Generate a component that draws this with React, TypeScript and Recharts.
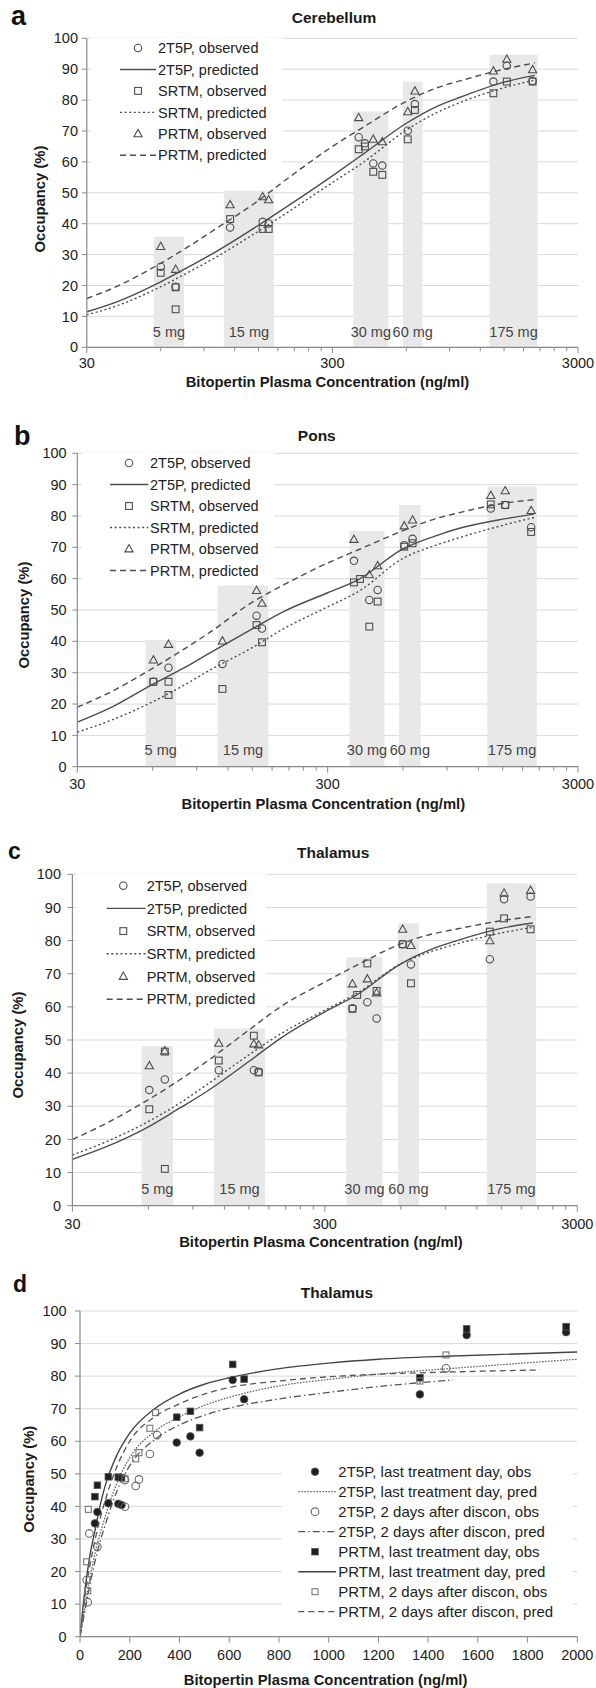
import React from "react";
import { ComposedChart, Line, Scatter, XAxis, YAxis, CartesianGrid, ReferenceArea, Legend } from "recharts";

const FONT = '"Liberation Sans", Arial, sans-serif';
const AXIS = "#8a8a8a";
const GRID = "#d9d9d9";
const BAND = "#e8e8e8";
const INK = "#222";
const MARK = "#4d4d4d";
const Y_W = 40;
const X_H = 30;

// shared axis values
const doseLabels = ["5 mg", "15 mg", "30 mg", "60 mg", "175 mg"];
const logTicks = [30, 60, 90, 120, 150, 180, 210, 240, 270, 300, 600, 900, 1200, 1500, 1800, 2100, 2400, 2700, 3000];
const logTickLabels = [30, 300, 3000];
const linTicks = [0, 200, 400, 600, 800, 1000, 1200, 1400, 1600, 1800, 2000];
const yTicks = [0, 10, 20, 30, 40, 50, 60, 70, 80, 90, 100];
const curveConc = [30, 40, 60, 80, 100, 150, 200, 300, 400, 600, 800, 1000, 1500, 2000];

// a: cerebellum
const cblBandLo = [56.3, 108.4, 365, 581, 1308];
const cblBandHi = [74.6, 173.4, 507, 699, 2054];
const cblBandTop = [35.8, 50.7, 76.3, 86, 94.7];
const cblTwoObs = [[60, 26.1], [69, 19.6], [115, 38.8], [156, 40.6], [165, 40.1], [384, 68.0], [407, 66.0], [440, 59.5], [479, 58.8], [608, 70.1], [650, 78.7], [1357, 86.0], [1539, 91.1], [1960, 86.2]];
const cblSrtmObs = [[60, 24.1], [69, 19.4], [69, 12.3], [115, 41.5], [156, 38.3], [165, 38.3], [384, 64.1], [407, 65.0], [440, 56.8], [479, 55.8], [608, 67.3], [650, 76.8], [1357, 82.2], [1539, 86.0], [1960, 86.0]];
const cblPrtmObs = [[60, 32.6], [69, 25.2], [115, 46.1], [156, 48.7], [165, 47.7], [384, 74.3], [440, 67.3], [479, 66.5], [608, 76.2], [650, 82.9], [1357, 89.4], [1539, 93.2], [1960, 89.8]];
const cblTwoPred = [11.5, 14.8, 21.2, 26.5, 30.8, 39.5, 46.0, 55.5, 62.5, 72.5, 78.0, 81.0, 85.8, 88.0];
const cblSrtmPred = [10.5, 13.5, 19.6, 24.8, 29.0, 37.6, 44.0, 53.3, 59.8, 70.3, 76.0, 79.3, 84.0, 86.5];
const cblPrtmPred = [15.8, 19.8, 27.2, 33.2, 38.2, 47.5, 55.0, 65.0, 71.2, 79.6, 84.0, 86.3, 90.0, 92.0];

// b: pons
const ponsBandLo = [56.2, 109, 367, 578, 1303];
const ponsBandHi = [74.3, 174, 506, 706, 2053];
const ponsBandTop = [40.4, 57.8, 75.2, 83.5, 89.5];
const ponsTwoObs = [[60.4, 27.1], [69.4, 31.6], [114, 32.8], [156, 48.2], [164, 44.1], [382, 65.7], [440, 53.2], [475, 56.4], [607, 70.7], [655, 72.7], [1345, 82.4], [1536, 83.5], [1950, 76.4]];
const ponsSrtmObs = [[60.4, 27.1], [69.4, 27.1], [69.4, 22.9], [114, 24.8], [156, 45.2], [164, 39.7], [382, 58.8], [404, 59.9], [440, 44.7], [475, 52.7], [607, 70.2], [655, 71.3], [1345, 83.7], [1536, 83.5], [1950, 74.9]];
const ponsPrtmObs = [[60.4, 34.0], [69.4, 39.0], [114, 40.1], [156, 56.2], [164, 52.1], [382, 72.5], [440, 61.2], [475, 64.1], [607, 76.8], [655, 78.7], [1345, 86.5], [1536, 88.0], [1950, 81.7]];
const ponsTwoPred = [14.2, 18.5, 26.3, 31.5, 36.0, 44.0, 49.5, 55.5, 59.8, 69.5, 73.5, 76.0, 79.0, 80.6];
const ponsSrtmPred = [11.0, 14.5, 20.7, 26.0, 30.5, 38.0, 44.0, 51.0, 56.0, 66.5, 70.5, 73.0, 77.0, 79.5];
const ponsPrtmPred = [19.0, 23.5, 31.4, 37.5, 42.5, 52.5, 58.0, 65.0, 69.3, 75.3, 79.0, 81.0, 84.0, 85.2];

// c: thalamus
const thalBandLo = [56.4, 109, 365, 585, 1313];
const thalBandHi = [75.1, 174, 508, 708, 2061];
const thalBandTop = [48.2, 53.5, 75, 85.2, 97.3];
const thalTwoObs = [[60.5, 34.9], [69.7, 38.1], [114, 40.9], [157, 40.9], [164, 40.4], [386, 59.6], [442, 61.4], [481, 56.5], [610, 78.9], [658, 72.8], [1351, 74.4], [1538, 92.5], [1959, 93.3]];
const thalSrtmObs = [[60.5, 29.1], [69.7, 46.5], [69.7, 11.1], [114, 43.8], [157, 51.3], [164, 40.2], [386, 59.4], [403, 63.6], [442, 73.1], [481, 64.8], [610, 78.9], [658, 67.1], [1351, 82.7], [1538, 86.7], [1959, 83.4]];
const thalPrtmObs = [[60.5, 42.2], [69.7, 46.7], [114, 49.0], [157, 48.8], [164, 48.5], [386, 66.9], [442, 68.4], [481, 64.2], [610, 83.4], [658, 78.5], [1351, 79.9], [1538, 94.3], [1959, 95.1]];
const thalTwoPred = [14.0, 17.5, 23.8, 29.5, 34.0, 43.5, 50.5, 58.5, 63.5, 73.0, 77.5, 80.0, 83.7, 85.3];
const thalSrtmPred = [15.3, 19.0, 25.4, 31.0, 36.0, 45.5, 51.8, 59.0, 64.0, 73.0, 76.8, 79.0, 82.3, 84.0];
const thalPrtmPred = [20.0, 24.5, 32.0, 38.0, 43.0, 53.0, 60.0, 67.5, 72.5, 79.0, 82.0, 83.5, 86.0, 87.3];

// d: thalamus, linear concentration
const dConc = [0, 20, 40, 60, 80, 100, 150, 200, 300, 400, 500, 600, 800, 1000, 1200, 1500, 2000];
const dConcDashed = [0, 20, 40, 60, 80, 100, 150, 200, 300, 400, 500, 600, 800, 1000, 1200, 1500, 1850];
const dConcShort = [0, 20, 40, 60, 80, 100, 150, 200, 300, 400, 500, 600, 800, 1000, 1200, 1500];
const dTwoLastObs = [[60, 34.8], [70, 38.3], [114, 41.0], [154, 40.8], [167, 40.4], [389, 59.6], [444, 61.5], [481, 56.5], [614, 78.8], [660, 72.9], [1367, 74.4], [1555, 92.6], [1955, 93.5]];
const dTwoDiscObs = [[27, 17.4], [31, 10.6], [37.5, 31.7], [70, 27.6], [181, 39.9], [181, 48.1], [224, 46.3], [237, 48.3], [281, 56.1], [310, 61.9], [1472, 82.4]];
const dPrtmLastObs = [[60, 43.0], [70, 46.5], [114, 49.1], [154, 49.0], [167, 48.8], [389, 67.4], [444, 69.2], [481, 64.2], [614, 83.6], [660, 79.1], [1367, 79.5], [1555, 94.5], [1955, 95.2]];
const dPrtmDiscObs = [[27, 23.0], [31, 14.1], [33.5, 39.1], [181, 48.5], [224, 54.6], [237, 56.5], [281, 64.0], [304, 68.8], [1367, 78.5], [1472, 86.5]];
const dTwoLastPred = [0, 9, 18, 25.5, 31.5, 36.5, 47.5, 55, 63, 67.5, 71, 73.5, 77, 79, 80.6, 82.4, 85.2];
const dTwoDiscPred = [0, 8, 16, 23, 29, 34, 45, 52.5, 60.5, 65, 68, 70.2, 73, 75, 76.8, 78.8];
const dPrtmLastPred = [0, 14.5, 25, 32.5, 40, 46, 56, 62.5, 70, 74.5, 77.5, 79.5, 82.3, 84, 85.2, 86.2, 87.4];
const dPrtmDiscPred = [0, 12.5, 22, 29.5, 36, 41.5, 52.5, 60, 67.5, 71.5, 74.5, 76.5, 78.5, 79.8, 80.6, 81.3, 81.9];

const pts = (pairs: number[][]) => pairs.map(([x, y]) => ({ x, y }));
const curve = (xs: number[], ys: number[]) => ys.map((y, i) => ({ x: xs[i], y }));

// marker shapes
const openCircle = (p: any) => <circle cx={p.cx} cy={p.cy} r={3.7} fill="none" stroke={MARK} strokeWidth={1.1} />;
const openSquare = (p: any) => <rect x={p.cx - 3.4} y={p.cy - 3.4} width={6.8} height={6.8} fill="none" stroke={MARK} strokeWidth={1.1} />;
const openTriangle = (p: any) => (
    <polygon points={`${p.cx},${p.cy - 4.4} ${p.cx - 4.1},${p.cy + 2.9} ${p.cx + 4.1},${p.cy + 2.9}`} fill="none" stroke={MARK} strokeWidth={1.1} />
);
const filledCircle = (p: any) => <circle cx={p.cx} cy={p.cy} r={3.8} fill="#1e1e1e" stroke="#555" strokeWidth={0.8} />;
const filledSquare = (p: any) => <rect x={p.cx - 3.3} y={p.cy - 3.3} width={6.6} height={6.6} fill="#1e1e1e" stroke="#555" strokeWidth={0.8} />;
const greyCircle = (p: any) => <circle cx={p.cx} cy={p.cy} r={3.8} fill="none" stroke="#666" strokeWidth={1.1} />;
const greySquare = (p: any) => <rect x={p.cx - 3} y={p.cy - 3} width={6} height={6} fill="none" stroke="#777" strokeWidth={1.1} />;

type Series = { name: string; data: any[]; line?: boolean; dash?: string; width?: number; color?: string; shape?: (p: any) => any };

const abcSeries = (twoObs, twoPred, srtmObs, srtmPred, prtmObs, prtmPred): Series[] => [
    { name: "2T5P, observed", data: pts(twoObs), shape: openCircle },
    { name: "2T5P, predicted", data: curve(curveConc, twoPred), line: true, color: "#4d4d4d", width: 1.4 },
    { name: "SRTM, observed", data: pts(srtmObs), shape: openSquare },
    { name: "SRTM, predicted", data: curve(curveConc, srtmPred), line: true, dash: "2 2.6", color: "#4d4d4d", width: 1.4 },
    { name: "PRTM, observed", data: pts(prtmObs), shape: openTriangle },
    { name: "PRTM, predicted", data: curve(curveConc, prtmPred), line: true, dash: "6 4", color: "#4d4d4d", width: 1.4 },
];

const dSeries: Series[] = [
    { name: "2T5P, last treatment day, obs", data: pts(dTwoLastObs), shape: filledCircle },
    { name: "2T5P, last treatment day, pred", data: curve(dConc, dTwoLastPred), line: true, dash: "1.6 1.4", color: "#666", width: 1.3 },
    { name: "2T5P, 2 days after discon, obs", data: pts(dTwoDiscObs), shape: greyCircle },
    { name: "2T5P, 2 days after discon, pred", data: curve(dConcShort, dTwoDiscPred), line: true, dash: "7 3 1.5 3", color: "#555", width: 1.3 },
    { name: "PRTM, last treatment day, obs", data: pts(dPrtmLastObs), shape: filledSquare },
    { name: "PRTM, last treatment day, pred", data: curve(dConc, dPrtmLastPred), line: true, color: "#444", width: 1.4 },
    { name: "PRTM, 2 days after discon, obs", data: pts(dPrtmDiscObs), shape: greySquare },
    { name: "PRTM, 2 days after discon, pred", data: curve(dConcDashed, dPrtmDiscPred), line: true, dash: "6 4", color: "#555", width: 1.3 },
];

const panels = [
    {
        top: 0, height: 420, plot: { l: 86.8, r: 578, t: 38.3, b: 347.3 }, log: true, xGap: 10, yGap: 8.8,
        letter: { t: "a", x: 11, y: 25, size: 27 }, title: { t: "Cerebellum", x: 334, y: 22.7 },
        xTitle: { x: 327.5, y: 386.7 }, yTitle: { x: 40, y: 199 },
        legend: { left: 91, top: 38.3, w: 191, h: 127, row0: 10, gap: 21.45, sym: 47, lx1: 29, lx2: 65, tx: 67, fs: 14.5 },
        bands: { lo: cblBandLo, hi: cblBandHi, top: cblBandTop }, labelOffset: 10.5,
        series: abcSeries(cblTwoObs, cblTwoPred, cblSrtmObs, cblSrtmPred, cblPrtmObs, cblPrtmPred),
    },
    {
        top: 420, height: 420, plot: { l: 77.3, r: 578, t: 33.3, b: 346.7 }, log: true, xGap: 11.6, yGap: 10.7,
        letter: { t: "b", x: 14, y: 25, size: 27 }, title: { t: "Pons", x: 316.8, y: 20.7 },
        xTitle: { x: 323.3, y: 389.3 }, yTitle: { x: 23.6, y: 195 },
        legend: { left: 82, top: 33.3, w: 192, h: 131, row0: 10, gap: 21.5, sym: 47, lx1: 28, lx2: 66.3, tx: 68, fs: 14.5 },
        bands: { lo: ponsBandLo, hi: ponsBandHi, top: ponsBandTop }, labelOffset: 11.7,
        series: abcSeries(ponsTwoObs, ponsTwoPred, ponsSrtmObs, ponsSrtmPred, ponsPrtmObs, ponsPrtmPred),
    },
    {
        top: 840, height: 415, plot: { l: 72.4, r: 577.3, t: 34.3, b: 365.7 }, log: true, xGap: 12.6, yGap: 11.4,
        letter: { t: "c", x: 8, y: 19, size: 23 }, title: { t: "Thalamus", x: 333.2, y: 18.3 },
        xTitle: { x: 321, y: 407.3 }, yTitle: { x: 18, y: 205 },
        legend: { left: 76, top: 34.3, w: 190, h: 138, row0: 11.7, gap: 22.7, sym: 47.3, lx1: 30.7, lx2: 69.7, tx: 70.7, fs: 14.5 },
        bands: { lo: thalBandLo, hi: thalBandHi, top: thalBandTop }, labelOffset: 11.7,
        series: abcSeries(thalTwoObs, thalTwoPred, thalSrtmObs, thalSrtmPred, thalPrtmObs, thalPrtmPred),
    },
    {
        top: 1255, height: 433, plot: { l: 80, r: 577.3, t: 56, b: 381.7 }, log: false, xGap: 13.3, yGap: 13.4,
        letter: { t: "d", x: 13, y: 37.3, size: 23 }, title: { t: "Thalamus", x: 337, y: 42.7 },
        xTitle: { x: 325.6, y: 430 }, yTitle: { x: 28.5, y: 224.2 },
        legend: { left: 282, top: 207, w: 291, h: 163, row0: 9.7, gap: 20, sym: 33, lx1: 16.3, lx2: 54, tx: 56.3, fs: 15 },
        bands: null, labelOffset: 0,
        series: dSeries,
    },
];

const makeXTick = (majors: number[], gap: number) => (p: any) => {
    const v = p.payload.value;
    const major = majors.includes(v);
    const y0 = p.y - gap;
    return (
        <g>
            <line x1={p.x} x2={p.x} y1={y0} y2={y0 + (major ? 6 : 4)} stroke={AXIS} strokeWidth={1} />
            {major && (
                <text x={p.x} y={p.y} dy="0.71em" textAnchor="middle" fontSize={14.5} fill={INK}>{v}</text>
            )}
        </g>
    );
};

function LegendBox({ cfg, series }: any) {
    return (
        <svg width={cfg.w} height={cfg.h} style={{ display: "block", fontFamily: FONT }}>
            {series.map((s: Series, i: number) => {
                const y = cfg.row0 + i * cfg.gap;
                return (
                    <g key={s.name}>
                        {s.line ? (
                            <line x1={cfg.lx1} x2={cfg.lx2} y1={y} y2={y} stroke={s.color} strokeWidth={s.width} strokeDasharray={s.dash} />
                        ) : (
                            s.shape && s.shape({ cx: cfg.sym, cy: y })
                        )}
                        <text x={cfg.tx} y={y} dy="0.36em" fontSize={cfg.fs} fill={INK}>{s.name}</text>
                    </g>
                );
            })}
        </svg>
    );
}

function Panel({ cfg }: any) {
    const { plot } = cfg;
    const margin = { top: plot.t, right: 596 - plot.r, left: plot.l - Y_W, bottom: cfg.height - plot.b - X_H };
    const lines = cfg.series.filter((s: Series) => s.line);
    const marks = cfg.series.filter((s: Series) => !s.line);
    return (
        <div style={{ position: "absolute", left: 0, top: cfg.top, width: 596, height: cfg.height }}>
            <ComposedChart width={596} height={cfg.height} margin={margin}>
                <CartesianGrid vertical={false} stroke={GRID} strokeWidth={1} />
                <XAxis
                    type="number"
                    dataKey="x"
                    scale={cfg.log ? "log" : "linear"}
                    domain={cfg.log ? [30, 3000] : [0, 2000]}
                    ticks={cfg.log ? logTicks : linTicks}
                    interval={0}
                    allowDataOverflow
                    height={X_H}
                    tickSize={0}
                    tickMargin={cfg.xGap}
                    tickLine={false}
                    axisLine={{ stroke: AXIS, strokeWidth: 1.2 }}
                    tick={makeXTick(cfg.log ? logTickLabels : linTicks, cfg.xGap)}
                />
                <YAxis
                    type="number"
                    dataKey="y"
                    domain={[0, 100]}
                    ticks={yTicks}
                    interval={0}
                    allowDataOverflow
                    width={Y_W}
                    tickSize={5}
                    tickMargin={cfg.yGap - 5}
                    tickLine={{ stroke: AXIS }}
                    axisLine={{ stroke: AXIS, strokeWidth: 1.2 }}
                    tick={{ fontSize: 14.5, fill: INK }}
                />
                {cfg.bands && doseLabels.map((dose, i) => (
                    <ReferenceArea
                        key={dose}
                        x1={cfg.bands.lo[i]}
                        x2={cfg.bands.hi[i]}
                        y1={0}
                        y2={cfg.bands.top[i]}
                        fill={BAND}
                        fillOpacity={1}
                        stroke="none"
                        label={{ value: dose, position: "insideBottom", offset: cfg.labelOffset, fontSize: 14.5, fill: "#444" }}
                    />
                ))}
                {lines.map((s: Series) => (
                    <Line
                        key={s.name}
                        data={s.data}
                        dataKey="y"
                        type="monotone"
                        stroke={s.color}
                        strokeWidth={s.width}
                        strokeDasharray={s.dash}
                        dot={false}
                        activeDot={false}
                        isAnimationActive={false}
                    />
                ))}
                {marks.map((s: Series) => (
                    <Scatter key={s.name} data={s.data} dataKey="y" shape={s.shape} isAnimationActive={false} />
                ))}
                <Legend
                    layout="vertical"
                    align="center"
                    verticalAlign="middle"
                    wrapperStyle={{ left: cfg.legend.left, top: cfg.legend.top, width: cfg.legend.w, height: cfg.legend.h, background: "#fff" }}
                    content={() => <LegendBox cfg={cfg.legend} series={cfg.series} />}
                />
            </ComposedChart>
            <svg
                width={596}
                height={cfg.height}
                style={{ position: "absolute", left: 0, top: 0, pointerEvents: "none", fontFamily: FONT, overflow: "visible" }}
            >
                <text x={cfg.letter.x} y={cfg.letter.y} fontSize={cfg.letter.size} fontWeight="bold" fill="#111">{cfg.letter.t}</text>
                <text x={cfg.title.x} y={cfg.title.y} fontSize={15.5} fontWeight="bold" textAnchor="middle" fill="#1a1a1a">{cfg.title.t}</text>
                <text x={cfg.xTitle.x} y={cfg.xTitle.y} fontSize={14.8} fontWeight="bold" textAnchor="middle" fill="#1a1a1a">
                    Bitopertin Plasma Concentration (ng/ml)
                </text>
                <text
                    transform={`translate(${cfg.yTitle.x},${cfg.yTitle.y}) rotate(-90)`}
                    dy="0.36em"
                    fontSize={14.8}
                    fontWeight="bold"
                    textAnchor="middle"
                    fill="#1a1a1a"
                >
                    Occupancy (%)
                </text>
            </svg>
        </div>
    );
}

export default function App() {
    return (
        <div style={{ position: "absolute", left: 0, top: 0, width: 596, height: 1688, background: "#fff", fontFamily: FONT }}>
            {panels.map((p) => (
                <Panel key={p.letter.t} cfg={p} />
            ))}
        </div>
    );
}
